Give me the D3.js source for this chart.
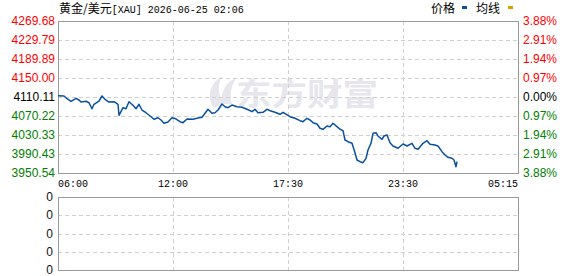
<!DOCTYPE html>
<html>
<head>
<meta charset="utf-8">
<script src="https://cdn.jsdelivr.net/npm/d3@7"></script>
<style>
  body { margin: 0; background: #fff; }
  svg { display: block; }
</style>
</head>
<body>
<div id="chart"></div>
<script>
// 黄金/美元 intraday
var title = "黄金/美元";
var titleCode = "[XAU] 2026-06-25 02:06";
var prevClose = 4110.11;
var priceTicks = [4269.68, 4229.79, 4189.89, 4150.00, 4110.11, 4070.22, 4030.33, 3990.43, 3950.54];
var pctTicks = ["3.88%", "2.91%", "1.94%", "0.97%", "0.00%", "0.97%", "1.94%", "2.91%", "3.88%"];
var timeLabels = ["06:00", "12:00", "17:30", "23:30", "05:15"];
var volTicks = [0, 0, 0, 0, 0];
var totalSlots = 460;

// [slot, price]
var series = [
  [0, 4112.8], [6, 4112.2], [9, 4106.5], [13, 4101.1], [18, 4107.4], [21, 4103.8],
  [23, 4099.6], [28, 4101.1], [31, 4098.1], [34, 4085.5], [36, 4094.8], [41, 4101.7],
  [44, 4112.2], [47, 4105.3], [51, 4099.6], [56, 4100.2], [60, 4094.8], [61, 4071.7],
  [65, 4087.6], [68, 4085.5], [71, 4100.2], [75, 4092.7], [78, 4085.5], [81, 4094.8],
  [84, 4082.8], [88, 4077.1], [93, 4068.7], [96, 4063.3], [100, 4066.6], [103, 4061.8],
  [106, 4054.9], [110, 4057.6], [114, 4066.6], [117, 4065.0], [122, 4058.3], [125, 4056.2],
  [129, 4063.9], [135, 4063.3], [140, 4066.0], [144, 4067.5], [147, 4075.9], [150, 4084.3],
  [154, 4075.9], [157, 4077.1], [160, 4082.8], [164, 4095.4], [167, 4089.7], [170, 4087.6],
  [174, 4093.3], [179, 4089.7], [184, 4088.5], [189, 4084.3], [194, 4079.3], [197, 4084.3],
  [200, 4077.1], [205, 4078.0], [209, 4084.3], [212, 4081.4], [217, 4078.0], [222, 4073.8],
  [225, 4078.0], [230, 4071.3], [232, 4068.7], [237, 4065.4], [242, 4060.4], [245, 4058.3],
  [249, 4065.4], [252, 4061.8], [255, 4056.2], [259, 4053.4], [262, 4044.4], [265, 4042.3],
  [269, 4049.2], [272, 4047.8], [275, 4054.9], [279, 4047.8], [282, 4042.3], [285, 4039.4],
  [287, 4019.8], [290, 4016.3], [294, 4012.9], [297, 3993.2], [299, 3977.8], [302, 3974.3],
  [305, 3972.2], [308, 3981.4], [310, 3998.8], [313, 4012.9], [315, 4033.9], [318, 4035.2],
  [320, 4028.2], [324, 4021.3], [326, 4028.2], [329, 4030.3], [332, 4014.2], [335, 4007.2],
  [340, 4002.4], [345, 4011.4], [349, 4007.2], [354, 4012.9], [357, 4002.4], [360, 4000.3],
  [365, 4012.9], [369, 4018.4], [372, 4010.8], [377, 4009.3], [380, 4007.2], [384, 3995.3],
  [387, 3988.3], [390, 3983.5], [394, 3981.4], [396, 3977.8], [398, 3963.8], [399, 3974.3]
];

var W = 578, H = 276;
var left = 58, right = 518;
var top1 = 21, bot1 = 173;
var top2 = 197, bot2 = 270;
var cjk = "'Noto Sans CJK SC', sans-serif";
var mono = "'Liberation Mono', 'DejaVu Sans Mono', monospace";
var sans = "'Liberation Sans', Arial, sans-serif";

var svg = d3.select("#chart").append("svg").attr("width", W).attr("height", H);

var x = d3.scaleLinear().domain([0, totalSlots]).range([left, right]);
var y = d3.scaleLinear().domain([priceTicks[8], priceTicks[0]]).range([bot1, top1]);
var tx = d3.scalePoint().domain(timeLabels).range([left, right]);
var rowY = d3.scalePoint().domain(d3.range(priceTicks.length)).range([top1, bot1]);
var volY = d3.scalePoint().domain(d3.range(volTicks.length)).range([top2, bot2]);

function labelColor(i) {
  if (i < 4) return "#ff0000";
  if (i == 4) return "#000000";
  return "#008000";
}

// watermark
var wm = svg.append("g").attr("fill", "#e6e6ec");
wm.append("path")
  .attr("d", "M 214 108 C 206 96 210 84 222 76 C 217 86 218 95 224 103 Z M 222 104 C 220 92 226 82 236 78 C 230 88 230 96 232 104 Z");
wm.append("text")
  .attr("x", 236).attr("y", 105)
  .attr("font-family", cjk).attr("font-weight", "bold")
  .attr("font-size", 31)
  .attr("textLength", 142).attr("lengthAdjust", "spacingAndGlyphs")
  .text("东方财富");

// grids
var grid = svg.append("g").attr("stroke", "#d0d0d0").attr("stroke-dasharray", "4,3").attr("shape-rendering", "crispEdges");
grid.selectAll(".h1").data(d3.range(1, priceTicks.length - 1)).join("line")
  .attr("x1", left).attr("x2", right)
  .attr("y1", function (d) { return Math.round(rowY(d)) + 0.5; })
  .attr("y2", function (d) { return Math.round(rowY(d)) + 0.5; });
grid.selectAll(".v1").data(timeLabels.slice(1, -1)).join("line")
  .attr("y1", top1).attr("y2", bot1)
  .attr("x1", function (d) { return Math.round(tx(d)) + 0.5; })
  .attr("x2", function (d) { return Math.round(tx(d)) + 0.5; });
grid.selectAll(".h2").data(d3.range(1, volTicks.length - 1)).join("line")
  .attr("x1", left).attr("x2", right)
  .attr("y1", function (d) { return Math.round(volY(d)) + 0.5; })
  .attr("y2", function (d) { return Math.round(volY(d)) + 0.5; });
grid.selectAll(".v2").data(timeLabels.slice(1, -1)).join("line")
  .attr("y1", top2).attr("y2", bot2)
  .attr("x1", function (d) { return Math.round(tx(d)) + 0.5; })
  .attr("x2", function (d) { return Math.round(tx(d)) + 0.5; });

// frames
svg.append("rect").attr("x", left + 0.5).attr("y", top1 + 0.5)
  .attr("width", right - left).attr("height", bot1 - top1)
  .attr("fill", "none").attr("stroke", "#999").attr("shape-rendering", "crispEdges");
svg.append("rect").attr("x", left + 0.5).attr("y", top2 + 0.5)
  .attr("width", right - left).attr("height", bot2 - top2)
  .attr("fill", "none").attr("stroke", "#999").attr("shape-rendering", "crispEdges");

// price line
var line = d3.line()
  .x(function (d) { return x(d[0]); })
  .y(function (d) { return y(d[1]); });
svg.append("path").datum(series)
  .attr("d", line)
  .attr("fill", "none").attr("stroke", "#0a50a0").attr("stroke-width", 1.5)
  .attr("stroke-linejoin", "round");

// left price labels
svg.selectAll(".pl").data(priceTicks).join("text")
  .attr("x", 55).attr("y", function (d, i) { return rowY(i); })
  .attr("dy", "0.35em").attr("text-anchor", "end")
  .attr("font-family", sans).attr("font-size", 12)
  .attr("fill", function (d, i) { return labelColor(i); })
  .text(function (d) { return d.toFixed(2); });

// right percent labels
svg.selectAll(".pr").data(pctTicks).join("text")
  .attr("x", 523).attr("y", function (d, i) { return rowY(i); })
  .attr("dy", "0.35em")
  .attr("font-family", sans).attr("font-size", 12)
  .attr("fill", function (d, i) { return labelColor(i); })
  .text(function (d) { return d; });

// time labels
svg.selectAll(".tl").data(timeLabels).join("text")
  .attr("x", function (d) { return tx(d); }).attr("y", 183)
  .attr("dy", "0.35em")
  .attr("text-anchor", function (d, i) { return i == 0 ? "start" : (i == timeLabels.length - 1 ? "end" : "middle"); })
  .attr("font-family", mono).attr("font-size", 10)
  .attr("fill", "#000")
  .text(function (d) { return d; });

// volume labels
svg.selectAll(".vl").data(volTicks).join("text")
  .attr("x", 53).attr("y", function (d, i) { return volY(i); })
  .attr("dy", "0.35em").attr("text-anchor", "end")
  .attr("font-family", sans).attr("font-size", 12)
  .attr("fill", "#111")
  .text(function (d) { return d; });

// title
var t = svg.append("text").attr("x", 59).attr("y", 13).attr("fill", "#000");
t.append("tspan").attr("font-family", cjk).attr("font-size", 12).text(title);
t.append("tspan").attr("font-family", mono).attr("font-size", 10).text(titleCode);

// legend
svg.append("text").attr("x", 431).attr("y", 13)
  .attr("font-family", cjk).attr("font-size", 12).attr("fill", "#000").text("价格");
svg.append("rect").attr("x", 462).attr("y", 6).attr("width", 5).attr("height", 3).attr("fill", "#0a50a0");
svg.append("text").attr("x", 476).attr("y", 13)
  .attr("font-family", cjk).attr("font-size", 12).attr("fill", "#000").text("均线");
svg.append("rect").attr("x", 508).attr("y", 6).attr("width", 5).attr("height", 3).attr("fill", "#e0a000");
</script>
</body>
</html>
